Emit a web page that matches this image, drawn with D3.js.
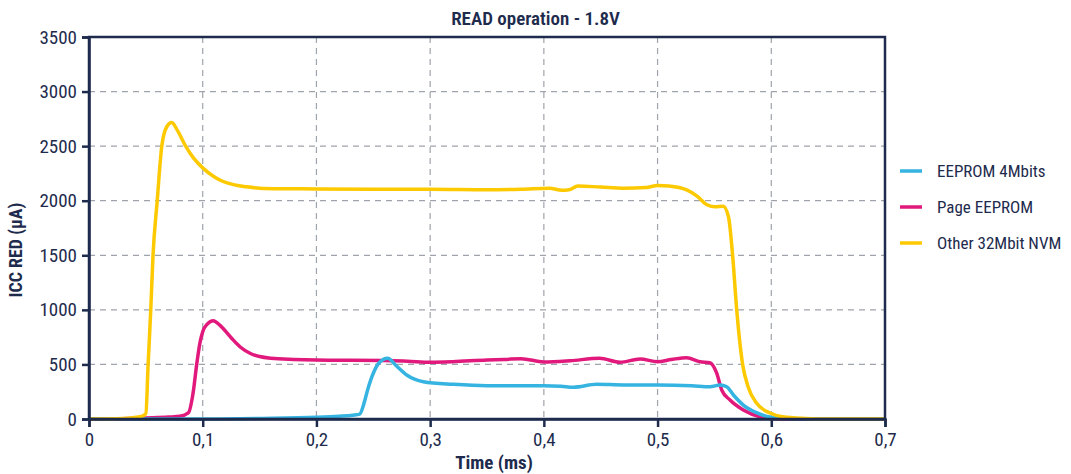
<!DOCTYPE html>
<html>
<head>
<meta charset="utf-8">
<script src="https://cdn.jsdelivr.net/npm/d3@7"></script>
<style>
  body { margin: 0; background: #fff; }
  text { font-family: "Liberation Sans Narrow", "Roboto Condensed", Roboto, sans-serif; fill: #1e2b4d; }
</style>
</head>
<body>
<div id="chart"></div>
<script>
// series data
var xTicks = [0, 0.1, 0.2, 0.3, 0.4, 0.5, 0.6, 0.7];
var xTickLabels = ["0", "0,1", "0,2", "0,3", "0,4", "0,5", "0,6", "0,7"];
var yTicks = [0, 500, 1000, 1500, 2000, 2500, 3000, 3500];

var seriesNames = ["EEPROM 4Mbits", "Page EEPROM", "Other 32Mbit NVM"];
var seriesColors = ["#35b3e1", "#e2197c", "#fdc900"];

var tEE = [0, 0.1, 0.15, 0.2, 0.22, 0.232, 0.238, 0.242, 0.245, 0.25, 0.255, 0.2627, 0.27, 0.2794, 0.294, 0.3204, 0.35, 0.4, 0.415, 0.426, 0.4465, 0.47, 0.5, 0.53, 0.546, 0.555, 0.5608, 0.5667, 0.5754, 0.587, 0.6, 0.62, 0.65, 0.7];
var vEE = [0, 0, 5, 15, 25, 35, 45, 150, 266, 419, 513, 556, 490, 403, 342, 318, 305, 305, 300, 291, 318, 312, 312, 305, 296, 312, 296, 220, 128, 58, 15, 3, 0, 0];

var tPage = [0, 0.02, 0.05, 0.07, 0.08, 0.0873, 0.0917, 0.0947, 0.0976, 0.1, 0.104, 0.1093, 0.115, 0.125, 0.133, 0.142, 0.15, 0.16, 0.18, 0.2, 0.23, 0.26, 0.28, 0.3, 0.32, 0.35, 0.365, 0.38, 0.4, 0.423, 0.449, 0.467, 0.4846, 0.5, 0.512, 0.5256, 0.5373, 0.546, 0.552, 0.5564, 0.5637, 0.5754, 0.59, 0.6, 0.62, 0.7];
var vPage = [0, 0, 10, 18, 25, 55, 250, 500, 700, 800, 870, 901, 860, 745, 660, 600, 572, 556, 545, 540, 538, 535, 530, 520, 525, 541, 545, 553, 523, 534, 556, 520, 550, 525, 545, 562, 525, 516, 420, 266, 174, 83, 21, 5, 0, 0];

var tNVM = [0, 0.03, 0.045, 0.05, 0.052, 0.0543, 0.0563, 0.06, 0.064, 0.0685, 0.0727, 0.078, 0.085, 0.092, 0.1, 0.11, 0.118, 0.128, 0.1387, 0.15, 0.17, 0.2, 0.25, 0.3, 0.35, 0.38, 0.405, 0.4157, 0.422, 0.43, 0.45, 0.47, 0.49, 0.5, 0.51, 0.5256, 0.535, 0.543, 0.55, 0.5577, 0.5623, 0.566, 0.5696, 0.5748, 0.5796, 0.587, 0.599, 0.61, 0.63, 0.65, 0.7];
var vNVM = [0, 5, 20, 50, 500, 1000, 1500, 2000, 2500, 2680, 2717, 2640, 2500, 2390, 2301, 2220, 2176, 2145, 2127, 2115, 2110, 2108, 2105, 2105, 2100, 2105, 2115, 2095, 2100, 2135, 2125, 2115, 2120, 2140, 2135, 2100, 2040, 1965, 1945, 1950, 1855, 1500, 1000, 500, 296, 146, 55, 20, 5, 0, 0];

(function(){
var W = 1071, H = 474;
var margin = { top: 37, right: 186, bottom: 55, left: 89 },
    width = W - margin.left - margin.right,
    height = H - margin.top - margin.bottom;

var svg = d3.select("#chart").append("svg")
    .attr("width", W).attr("height", H);
var g = svg.append("g")
    .attr("transform", "translate(" + margin.left + "," + margin.top + ")");

var x = d3.scaleLinear().domain([0, 0.7]).range([0, width]);
var y = d3.scaleLinear().domain([0, 3500]).range([height, 0]);

// title, centred on the whole image
svg.append("text")
    .attr("x", W / 2).attr("y", 25)
    .attr("text-anchor", "middle")
    .style("font-size", "19px").style("font-weight", "600")
    .text("READ operation - 1.8V");

// grid
g.append("g").selectAll("line").data(yTicks.slice(1, -1)).join("line")
    .attr("x1", 0).attr("x2", width)
    .attr("y1", d => y(d)).attr("y2", d => y(d))
    .attr("stroke", "#9fa3ab").attr("stroke-width", 1.2)
    .attr("stroke-dasharray", "6,5");
g.append("g").selectAll("line").data(xTicks.slice(1, -1)).join("line")
    .attr("y1", 0).attr("y2", height)
    .attr("x1", d => x(d)).attr("x2", d => x(d))
    .attr("stroke", "#9fa3ab").attr("stroke-width", 1.2)
    .attr("stroke-dasharray", "6,5");

// lines
var sets = [
    { t: tEE, v: vEE, c: seriesColors[0] },
    { t: tPage, v: vPage, c: seriesColors[1] },
    { t: tNVM, v: vNVM, c: seriesColors[2] }
];
var line = d3.line()
    .x(d => x(d[0]))
    .y(d => y(d[1]))
    .curve(d3.curveMonotoneX);
[1, 0, 2].forEach(function (i) {
    var s = sets[i];
    g.append("path")
        .datum(s.t.map((t, k) => [t, s.v[k]]))
        .attr("fill", "none")
        .attr("stroke", s.c)
        .attr("stroke-width", 3.5)
        .attr("stroke-linejoin", "round")
        .attr("d", line);
});

// frame
g.append("rect")
    .attr("width", width).attr("height", height)
    .attr("fill", "none").attr("stroke", "#1e2b4d").attr("stroke-width", 2.5);

// axes
var xAxis = g.append("g")
    .attr("transform", "translate(0," + height + ")")
    .call(d3.axisBottom(x).tickValues(xTicks)
        .tickFormat((d, i) => xTickLabels[i]).tickSize(8).tickPadding(6));
var yAxis = g.append("g")
    .call(d3.axisLeft(y).tickValues(yTicks).tickFormat(d3.format("d"))
        .tickSize(7).tickPadding(5));
[xAxis, yAxis].forEach(function (a) {
    a.select(".domain").attr("stroke", "#1e2b4d").attr("stroke-width", 2.5);
    a.selectAll(".tick line").attr("stroke", "#1e2b4d").attr("stroke-width", 2.5);
    a.selectAll(".tick text").style("font-size", "19px")
        .style("font-family", "'Liberation Sans Narrow', 'Roboto Condensed', Roboto, sans-serif")
        .attr("fill", "#1e2b4d");
});

// axis titles
svg.append("text")
    .attr("x", 494).attr("y", 469)
    .attr("text-anchor", "middle")
    .style("font-size", "19px").style("font-weight", "bold")
    .text("Time (ms)");
svg.append("text")
    .attr("transform", "translate(22,250) rotate(-90)")
    .attr("text-anchor", "middle")
    .style("font-size", "18px").style("font-weight", "bold")
    .text("ICC RED (µA)");

// legend
var leg = svg.append("g").attr("transform", "translate(900,171)");
seriesNames.forEach(function (name, i) {
    var row = leg.append("g").attr("transform", "translate(0," + i * 36 + ")");
    row.append("line").attr("x1", 0).attr("x2", 22)
        .attr("stroke", seriesColors[i]).attr("stroke-width", 3.5);
    row.append("text").attr("x", 37).attr("y", 6)
        .style("font-size", "17px").text(name);
});
})();
</script>
</body>
</html>
